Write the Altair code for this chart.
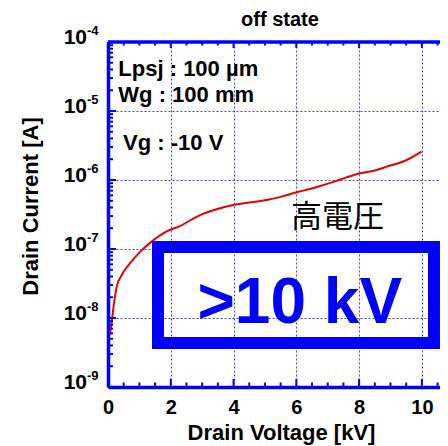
import altair as alt
import pandas as pd

# ---- data ----
voltage_kv = [0.06, 0.12, 0.17, 0.28, 0.44, 0.7, 1.02, 1.39, 1.87, 2.29, 2.93, 3.46, 3.99,
              4.5, 5.05, 5.5, 6.01, 6.6, 7.18, 7.6, 8.03, 8.5, 8.88, 9.52, 9.99]
current_a = [5.7e-9, 8.8e-9, 1.38e-8, 2.85e-8, 4.2e-8, 6.2e-8, 9.1e-8, 1.28e-7, 1.8e-7,
             2.15e-7, 3.1e-7, 3.76e-7, 4.35e-7, 4.72e-7, 5.13e-7, 5.7e-7, 6.64e-7, 7.8e-7,
             9.4e-7, 1.09e-6, 1.25e-6, 1.37e-6, 1.56e-6, 1.95e-6, 2.57e-6]

x_major = [0, 2, 4, 6, 8, 10]
x_minor = [0.5, 1, 1.5, 2.5, 3, 3.5, 4.5, 5, 5.5, 6.5, 7, 7.5, 8.5, 9, 9.5, 10.5]
y_decades = [1e-9, 1e-8, 1e-7, 1e-6, 1e-5, 1e-4]
y_exponents = ["-9", "-8", "-7", "-6", "-5", "-4"]
y_minor = [m * 10.0 ** e for e in range(-9, -4) for m in range(2, 10)]

note_lines = ["Lpsj : 100 µm", "Wg : 100 mm", "Vg : -10 V"]
note_v = [0.33, 0.33, 0.48]
note_i = [3.25e-5, 1.36e-5, 2.72e-6]

jp_label = ["高電圧"]
jp_v = [7.31]
jp_i = [2.81e-7]

big_label = [">10 kV"]
big_v = [6.11]
big_i = [8.47e-9]

box_v = [1.593]
box_v2 = [10.385]
box_i = [1.07e-7]
box_i2 = [4.35e-9]

FONT = "Liberation Sans"
BLUE = "#0000ff"
W, H = 332, 345

xscale = alt.Scale(domain=[0, 10.577], nice=False, zero=False)
yscale = alt.Scale(type="log", domain=[1e-9, 1e-4], nice=False)

curve_df = pd.DataFrame({"V": voltage_kv, "I": current_a})

curve = alt.Chart(curve_df).mark_line(
    color="#e60000", strokeWidth=2, interpolate="monotone").encode(
    x=alt.X("V:Q", scale=xscale, axis=alt.Axis(
        values=x_major, grid=True, gridColor="#2a2aff", gridDash=[2, 2], gridWidth=1,
        gridOpacity=0.9, ticks=False, domain=True, domainColor=BLUE, domainWidth=3.5,
        labelFont=FONT, labelFontSize=20, labelFontWeight="bold", labelColor="black",
        labelPadding=10, labelFlush=False, format="d",
        title="Drain Voltage [kV]", titleFont=FONT, titleFontSize=22,
        titleFontWeight="bold", titleColor="black", titleX=173, titleY=52,
        titleBaseline="alphabetic", titleAlign="center")),
    y=alt.Y("I:Q", scale=yscale, axis=alt.Axis(
        values=y_decades, grid=True, gridColor="#2a2aff", gridDash=[2, 2], gridWidth=1,
        gridOpacity=0.9, ticks=False, labels=False, domain=True, domainColor=BLUE,
        domainWidth=3.5,
        title="Drain Current [A]", titleFont=FONT, titleFontSize=22,
        titleFontWeight="bold", titleColor="black", titleX=-78, titleY=164,
        titleAngle=270, titleAlign="center", titleBaseline="middle")),
)

top_frame = alt.Chart(pd.DataFrame({"I": [1e-4]})).mark_rule(
    color=BLUE, strokeWidth=3.5).encode(y=alt.Y("I:Q"))


def vticks(vals, y0, y1):
    return alt.Chart(pd.DataFrame({"V": vals})).mark_rule(
        color=BLUE, strokeWidth=2).encode(
        x=alt.X("V:Q"), y=alt.value(y0), y2=alt.value(y1))


def hticks(vals, x1):
    return alt.Chart(pd.DataFrame({"I": vals})).mark_rule(
        color=BLUE, strokeWidth=2).encode(
        y=alt.Y("I:Q"), x=alt.value(0), x2=alt.value(x1))


ticks = [
    vticks(x_major, H, H - 8), vticks(x_minor, H, H - 4.5),
    vticks(x_major, 0, 6), vticks(x_minor, 0, 3.5),
    hticks(y_decades, 8), hticks(y_minor, 5),
]

dec_df = pd.DataFrame({"I": y_decades, "e": y_exponents})
ten = alt.Chart(dec_df).mark_text(
    font=FONT, fontSize=21, fontWeight="bold", color="black",
    align="right", baseline="middle", dy=-4).encode(
    y=alt.Y("I:Q"), x=alt.value(-21), text=alt.value("10"))
expo = alt.Chart(dec_df).mark_text(
    font=FONT, fontSize=13, fontWeight="bold", color="black",
    align="left", baseline="middle", dy=-11).encode(
    y=alt.Y("I:Q"), x=alt.value(-21), text=alt.Text("e:N"))

notes = alt.Chart(pd.DataFrame({"V": note_v, "I": note_i, "t": note_lines})).mark_text(
    font=FONT, fontSize=22, fontWeight="bold", color="black",
    align="left", baseline="alphabetic").encode(
    x=alt.X("V:Q"), y=alt.Y("I:Q"), text="t:N")

jp = alt.Chart(pd.DataFrame({"V": jp_v, "I": jp_i, "t": jp_label})).mark_text(
    font="Noto Sans CJK JP", fontSize=31, color="black",
    align="center", baseline="middle").encode(
    x=alt.X("V:Q"), y=alt.Y("I:Q"), text="t:N")

box = alt.Chart(pd.DataFrame({"V": box_v, "V2": box_v2, "I": box_i, "I2": box_i2})).mark_rect(
    filled=False, stroke=BLUE, strokeWidth=12).encode(
    x=alt.X("V:Q"), x2="V2:Q", y=alt.Y("I:Q"), y2="I2:Q")

big = alt.Chart(pd.DataFrame({"V": big_v, "I": big_i, "t": big_label})).mark_text(
    font=FONT, fontSize=64, fontWeight="bold", color=BLUE,
    align="center", baseline="alphabetic").encode(
    x=alt.X("V:Q"), y=alt.Y("I:Q"), text="t:N")

chart = alt.layer(curve, top_frame, *ticks, ten, expo, notes, jp, box, big).properties(
    width=W, height=H,
    title=alt.TitleParams("off state", font=FONT, fontSize=20, fontWeight="bold",
                          color="black", anchor="middle", baseline="alphabetic",
                          offset=0, dy=21, dx=6),
    autosize=alt.AutoSizeParams(type="none"),
    padding={"left": 100, "top": 34, "right": 0, "bottom": 59},
).configure_view(stroke=None)

chart.save("out.html", embed_options={"renderer": "svg", "actions": False})
